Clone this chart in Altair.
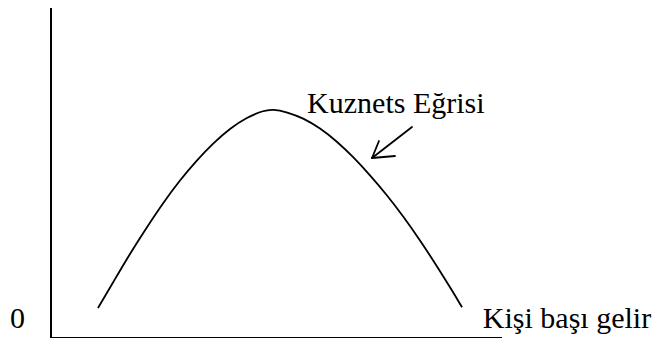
import altair as alt
import pandas as pd

# Kuznets curve (income per capita vs. inequality)
curve_x = [7.78, 10.26, 13.08, 15.89, 18.54, 21.36, 24.17, 26.82, 29.64, 32.45,
           35.10, 36.75, 39.07, 41.72, 44.54, 47.35, 50.00, 52.81, 55.63, 58.28,
           61.09, 63.91, 66.56, 68.05]
curve_y = [9.09, 16.80, 25.60, 33.64, 40.91, 47.88, 53.94, 59.00, 63.52, 66.89,
           68.88, 69.38, 68.48, 66.67, 63.64, 59.57, 54.93, 49.37, 43.31, 36.95,
           29.64, 21.74, 13.92, 9.30]

# axes (as drawn lines)
axis_x = [0, 0]
axis_y = [0, 0]
axis_x2 = [0, 74.67]
axis_y2 = [100, 0]

# annotation arrow: tail -> tip, and two head wings
arrow_x = [59.77, 54.30, 56.95]
arrow_y = [63.94, 59.70, 55.15]
arrow_x2 = [53.15, 53.15, 53.15]
arrow_y2 = [54.55, 54.55, 54.55]

# labels
label_text = ["Kuznets Eğrisi", "Kişi başı gelir", "0"]
label_x = [42.4, 71.5, -6.8]
label_y = [68.18, 3.03, 3.03]

curve_df = pd.DataFrame({"x": curve_x, "y": curve_y})
axis_df = pd.DataFrame({"x": axis_x, "y": axis_y, "x2": axis_x2, "y2": axis_y2})
arrow_df = pd.DataFrame({"x": arrow_x, "y": arrow_y, "x2": arrow_x2, "y2": arrow_y2})
label_df = pd.DataFrame({"t": label_text, "x": label_x, "y": label_y})

xs = alt.Scale(domain=[0, 100], nice=False, zero=False)
ys = alt.Scale(domain=[0, 100], nice=False, zero=False)

curve = alt.Chart(curve_df).mark_line(
    color="black", strokeWidth=1.8, interpolate="basis"
).encode(
    x=alt.X("x:Q", scale=xs, axis=None),
    y=alt.Y("y:Q", scale=ys, axis=None),
)

axes = alt.Chart(axis_df).mark_rule(color="black", strokeWidth=2).encode(
    x=alt.X("x:Q", scale=xs, axis=None),
    y=alt.Y("y:Q", scale=ys, axis=None),
    x2="x2:Q",
    y2="y2:Q",
)

arrow = alt.Chart(arrow_df).mark_rule(color="black", strokeWidth=1.8, strokeCap="round").encode(
    x=alt.X("x:Q", scale=xs, axis=None),
    y=alt.Y("y:Q", scale=ys, axis=None),
    x2="x2:Q",
    y2="y2:Q",
)

labels = alt.Chart(label_df).mark_text(
    align="left", baseline="alphabetic", font="Liberation Serif",
    fontSize=30, color="black"
).encode(
    x=alt.X("x:Q", scale=xs, axis=None),
    y=alt.Y("y:Q", scale=ys, axis=None),
    text="t:N",
)

chart = alt.layer(axes, curve, arrow, labels).properties(
    width=604, height=330,
    autosize=alt.AutoSizeParams(type="none"),
    padding={"left": 43, "top": 0, "right": 0, "bottom": 0},
    background="white",
).configure_view(stroke=None)

chart.save("out.html", embed_options={"renderer": "svg", "actions": False})
